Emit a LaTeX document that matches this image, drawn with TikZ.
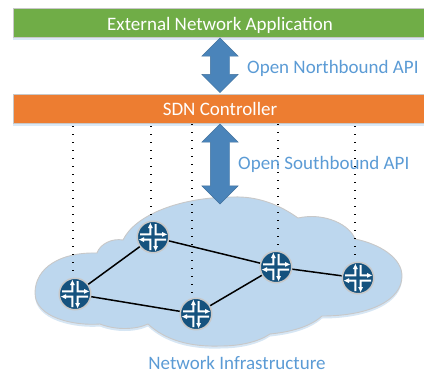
\documentclass[tikz,border=0pt]{standalone}
\usepackage{fontspec}
\setmainfont{Carlito}
\usetikzlibrary{shapes.arrows,shadows,calc}
\definecolor{appgreen}{HTML}{70AD47}
\definecolor{ctlorange}{HTML}{ED7D31}
\definecolor{lblblue}{HTML}{5B9BD5}
\definecolor{cloudblue}{HTML}{BDD7EE}
\definecolor{arrowblue}{HTML}{4A84BA}
\definecolor{arrowedge}{HTML}{41719C}
\definecolor{routerblue}{HTML}{15527E}
\definecolor{edgegray}{HTML}{C8C8C8}
\tikzset{
  x=1pt,y=-1pt,
  bar/.style={draw=edgegray,line width=0.8pt,minimum width=414pt,minimum height=29pt,inner sep=0pt,text=white,font=\fontsize{19}{21}\selectfont,
    drop shadow={shadow xshift=0pt,shadow yshift=-2.5pt,fill=lblblue,opacity=.22}},
  api/.style={double arrow,rotate=90,double arrow head extend=8.5pt,double arrow tip angle=90,inner xsep=0pt,inner ysep=9.5pt,fill=arrowblue,draw=arrowedge,line width=0.4pt},
  lbl/.style={text=lblblue,font=\fontsize{19}{21}\selectfont,inner sep=0pt},
  router/.style={circle,fill=routerblue,draw=edgegray,line width=1.5pt,minimum size=31.5pt,inner sep=0pt},
  probe/.style={line width=1.2pt,black,dash pattern=on 1.2pt off 6.8pt},
  link/.style={black,line width=1.5pt},
  pics/rticon/.style={code={
    \fill[white] (-3.6,-9) -- (-3.6,-3.6) -- (-13,-3.6) -- (-13,-1.6) -- (-1.6,-1.6) -- (-1.6,-9) -- (-.2,-9) -- (-2.6,-14) -- (-5,-9) -- cycle;
    \fill[white] (1.6,-13) -- (3.6,-13) -- (3.6,-3.6) -- (9,-3.6) -- (9,-5) -- (14,-2.6) -- (9,-.2) -- (9,-1.6) -- (1.6,-1.6) -- cycle;
    \fill[white] (3.6,9) -- (3.6,3.6) -- (13,3.6) -- (13,1.6) -- (1.6,1.6) -- (1.6,9) -- (.2,9) -- (2.6,14) -- (5,9) -- cycle;
    \fill[white] (-1.6,13) -- (-3.6,13) -- (-3.6,3.6) -- (-9,3.6) -- (-9,5) -- (-14,2.6) -- (-9,.2) -- (-9,1.6) -- (-1.6,1.6) -- cycle;
  }}
}
\newcommand{\cloudpath}{(97,253) .. controls (60,252) and (35,268) .. (35,293)
  .. controls (35,318) and (75,326) .. (100,324)
  .. controls (115,330) and (135,330) .. (148,324)
  .. controls (165,340) and (190,347) .. (220,346)
  .. controls (240,346) and (258,342) .. (270,334)
  .. controls (290,332) and (310,327) .. (322,316)
  .. controls (370,316) and (402,300) .. (402,276)
  .. controls (402,258) and (380,244) .. (355,239)
  .. controls (350,225) and (325,212) .. (298,218)
  .. controls (280,205) and (258,196) .. (233,197)
  .. controls (180,197) and (135,215) .. (123,240)
  .. controls (112,238) and (100,244) .. (97,253) -- cycle}
\begin{document}
\begin{tikzpicture}
\useasboundingbox (0,0) rectangle (424,373);
% cloud
\fill[lblblue,opacity=.25] [yshift=-2.5pt] \cloudpath;
\draw[fill=cloudblue,draw=edgegray,line width=0.9pt] \cloudpath;
% bars
\node[bar,fill=appgreen,text depth=0pt] (app) at (220,23) {\raisebox{-1pt}{External Network Application}};
\node[bar,fill=ctlorange,text depth=0pt] (ctl) at (220,108.5) {\raisebox{-.5pt}{SDN Controller}};
% routers
\node[router] (r1) at (75,294) {};
\node[router] (r2) at (153,237) {};
\node[router] (r3) at (196,314) {};
\node[router] (r4) at (276,267) {};
\node[router] (r5) at (358,278) {};
% probes
\coordinate (c1) at (73,126);
\coordinate (c2) at (151,126);
\coordinate (c3) at (192,124);
\coordinate (c4) at (278,124);
\coordinate (c5) at (355,126);
\draw[probe] (c1) -- ([yshift=3pt]c1 |- r1.north);
\draw[probe] (c2) -- ([yshift=3pt]c2 |- r2.north);
\draw[probe] (c3) -- ([yshift=3pt]c3 |- r3.north);
\draw[probe] (c4) -- ([yshift=3pt]c4 |- r4.north);
\draw[probe] (c5) -- ([yshift=3pt]c5 |- r5.north);
% links
\draw[link] (r1) -- (r2);
\draw[link] (r1) -- (r3);
\draw[link] (r2) -- (r4);
\draw[link] (r3) -- (r4);
\draw[link] (r4) -- (r5);
\foreach \r in {r1,r2,r3,r4,r5} {\pic at (\r) {rticon};}
% api arrows
\node[api,minimum height=54.6pt] (north) at (220,65.3) {};
\node[api,minimum height=80pt] (south) at (220,164) {};
% labels
\node[lbl,anchor=west] (nl) at (247,68) {Open Northbound API};
\node[lbl,anchor=west] (sl) at (238,164) {Open Southbound API};
\node[lbl] (il) at (237,363) {Network Infrastructure};
\end{tikzpicture}
\end{document}
